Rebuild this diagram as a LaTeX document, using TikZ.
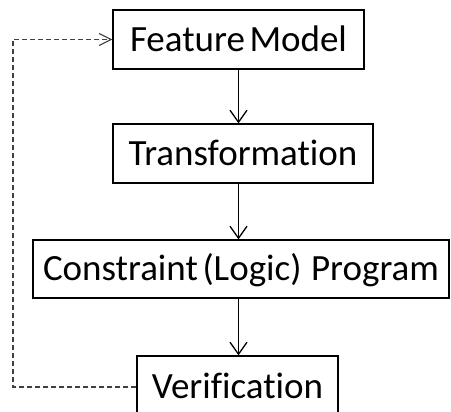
\documentclass[tikz,border=0pt]{standalone}
\usepackage{fontspec}
\setmainfont{Carlito}[Ligatures=NoCommon,WordSpace=0.55]
\usetikzlibrary{arrows.meta}
\begin{document}
\begin{tikzpicture}[x=1pt,y=1pt,
  box/.style={draw,line width=1.3pt,inner sep=0pt,font=\fontsize{37}{40}\selectfont,
    text height=23.8pt,text depth=0pt,anchor=center},
  flow/.style={line width=1.3pt,-{Straight Barb[length=12pt,width=17pt,line width=1.3pt]}},
  back/.style={line width=1.1pt,draw=black!75,dash pattern=on 5pt off 3pt,
    -{Straight Barb[length=12pt,width=12pt,line width=1.1pt]}}]
\useasboundingbox (0,0) rectangle (451,412);
\clip (0,0) rectangle (451,412);
\node[box,minimum width=251pt,minimum height=59pt] (fm) at (238.5,372.5) {Feature Model};
\node[box,minimum width=260pt,minimum height=59pt] (tr) at (243,258.5) {Transformation};
\node[box,minimum width=416pt,minimum height=58pt] (cp) at (241,143) {Constraint (Logic)\hspace{5pt} Program};
\node[box,minimum width=201pt,minimum height=62pt] (ve) at (237.5,25) {Verification};
\coordinate (lx) at (13,200);
\draw[flow] (fm.south) -- (fm.south |- tr.north);
\draw[flow] (tr.south -| fm.south) -- (fm.south |- cp.north);
\draw[flow] (cp.south -| fm.south) -- (fm.south |- ve.north);
\draw[back] (ve.west) -- (ve.west -| lx) |- (fm.west);
\end{tikzpicture}
\end{document}
